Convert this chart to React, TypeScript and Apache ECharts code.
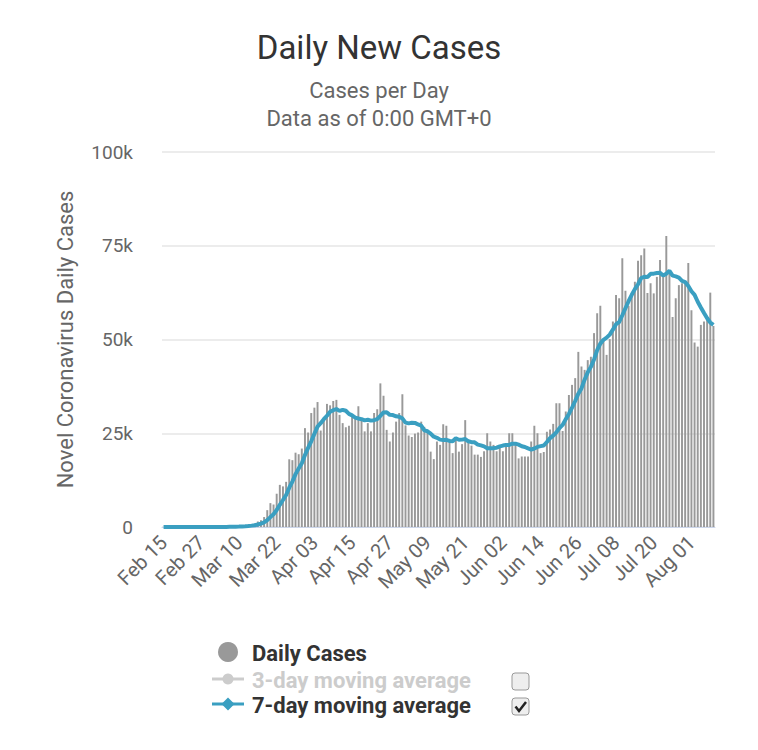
import React, { useEffect, useRef } from "react";
import * as echarts from "echarts";

const startDate = { year: 2020, month: 1, day: 15 }; // Feb 15 2020 (month is 0-based)
const dayCount = 176;

// Daily new cases, Feb 15 – Aug 08, 2020
const febCases = [0, 0, 0, 0, 0, 0, 1, 2, 0, 0, 0, 1, 0, 1, 8];
const marCases = [7, 23, 19, 33, 77, 53, 166, 116, 75, 188, 365, 439, 633, 759, 900, 1467, 1833, 2657, 4494, 6367, 5995, 8873, 11238, 10827, 12043, 18058, 17821, 19821, 19408, 20921, 26365];
const aprCases = [25200, 30390, 31824, 33323, 25717, 28410, 32829, 32449, 33600, 33900, 29900, 27700, 26600, 27000, 29600, 29500, 32200, 28600, 25500, 27700, 25500, 30400, 31400, 38300, 35000, 25900, 22800, 25200, 28100, 30400];
const mayCases = [35400, 27100, 24400, 24000, 24900, 25200, 28100, 26700, 25400, 20100, 18100, 22800, 21900, 27400, 27000, 23300, 19700, 23500, 20100, 22100, 28500, 22800, 21700, 19300, 19300, 18700, 20200, 25000, 22800, 21900, 20200];
const junCases = [21700, 20200, 21500, 25000, 25000, 22000, 18300, 18800, 18800, 18800, 22800, 27000, 25000, 19700, 20000, 25400, 26000, 27500, 33000, 33000, 25600, 30800, 35200, 37900, 39700, 46700, 42800, 41900, 44500, 45400];
const julCases = [51700, 57000, 59000, 49900, 45900, 50100, 54800, 61900, 61000, 71700, 63000, 59000, 62000, 65400, 71000, 72500, 74300, 62400, 65000, 62300, 66700, 71200, 67700, 77600, 67700, 56000, 61000, 64500, 65000, 65400, 70400];
const augCases = [57800, 49200, 48100, 53900, 54800, 55400, 62500, 53600];

const dailyCases = [...febCases, ...marCases, ...aprCases, ...mayCases, ...junCases, ...julCases, ...augCases];

const monthNames = ["Jan", "Feb", "Mar", "Apr", "May", "Jun", "Jul", "Aug", "Sep", "Oct", "Nov", "Dec"];
const yTicks = [0, 25000, 50000, 75000, 100000];

function buildDates(): string[] {
  const out: string[] = [];
  for (let i = 0; i < dayCount; i++) {
    const d = new Date(Date.UTC(startDate.year, startDate.month, startDate.day + i));
    const dd = String(d.getUTCDate()).padStart(2, "0");
    out.push(monthNames[d.getUTCMonth()] + " " + dd);
  }
  return out;
}

function movingAverage(values: number[], n: number): number[] {
  return values.map((_, i) => {
    const s = Math.max(0, i - n + 1);
    const win = values.slice(s, i + 1);
    return Math.round(win.reduce((a, b) => a + b, 0) / win.length);
  });
}

const FONT = "Roboto, 'Noto Sans', sans-serif";
const LINE_COLOR = "#3a9fc1";

export default function App() {
  const ref = useRef<HTMLDivElement>(null);
  useEffect(() => {
    document.body.style.margin = "0";
    if (!ref.current) return;
    const chart = echarts.init(ref.current, null, { renderer: "svg" });
    const dates = buildDates();
    const avg7 = movingAverage(dailyCases, 7);
    const option: any = {
      animation: false,
      backgroundColor: "#ffffff",
      textStyle: { fontFamily: FONT },
      title: [
        {
          text: "Daily New Cases",
          left: "center",
          top: 26,
          textStyle: { fontFamily: FONT, fontSize: 33, fontWeight: "normal", color: "#333333" },
        },
        {
          text: "Cases per Day",
          left: "center",
          top: 74,
          textStyle: { fontFamily: FONT, fontSize: 22, fontWeight: "normal", color: "#666666" },
        },
        {
          text: "Data as of 0:00 GMT+0",
          left: "center",
          top: 102,
          textStyle: { fontFamily: FONT, fontSize: 22, fontWeight: "normal", color: "#666666" },
        },
      ],
      grid: { left: 162, top: 152, width: 553, height: 375, containLabel: false },
      xAxis: {
        type: "category",
        data: dates,
        boundaryGap: true,
        axisLine: { show: true, lineStyle: { color: "#ccd6eb", width: 1 } },
        axisTick: { show: false },
        axisLabel: {
          interval: 11,
          rotate: 45,
          fontFamily: FONT,
          fontSize: 20,
          color: "#666666",
          margin: 12,
        },
        splitLine: { show: false },
      },
      yAxis: {
        type: "value",
        min: yTicks[0],
        max: yTicks[yTicks.length - 1],
        interval: yTicks[1] - yTicks[0],
        axisLine: { show: false },
        axisTick: { show: false },
        axisLabel: {
          fontFamily: FONT,
          fontSize: 19,
          color: "#666666",
          margin: 29,
          formatter: (v: number) => (v === 0 ? "0" : v / 1000 + "k"),
        },
        splitLine: { lineStyle: { color: "#e6e6e6", width: 1.5 } },
        name: "Novel Coronavirus Daily Cases",
        nameLocation: "middle",
        nameGap: 86,
        nameTextStyle: { fontFamily: FONT, fontSize: 22, color: "#666666" },
      },
      series: [
        {
          name: "Daily Cases",
          type: "bar",
          data: dailyCases,
          barWidth: "62%",
          itemStyle: { color: "#999999" },
          z: 2,
        },
        {
          name: "7-day moving average",
          type: "line",
          data: avg7,
          showSymbol: false,
          symbol: "none",
          lineStyle: { color: LINE_COLOR, width: 4 },
          itemStyle: { color: LINE_COLOR },
          z: 3,
        },
      ],
      graphic: [
        { type: "circle", shape: { cx: 228, cy: 652, r: 10 }, style: { fill: "#999999" } },
        {
          type: "text",
          x: 252,
          y: 653,
          style: { text: "Daily Cases", fill: "#333333", font: "bold 22px " + FONT, verticalAlign: "middle" },
        },
        { type: "line", shape: { x1: 212, y1: 679, x2: 244, y2: 679 }, style: { stroke: "#cccccc", lineWidth: 3 } },
        { type: "circle", shape: { cx: 228, cy: 679, r: 5.5 }, style: { fill: "#cccccc" } },
        {
          type: "text",
          x: 252,
          y: 680,
          style: { text: "3-day moving average", fill: "#cccccc", font: "bold 22px " + FONT, verticalAlign: "middle" },
        },
        { type: "line", shape: { x1: 212, y1: 704, x2: 244, y2: 704 }, style: { stroke: LINE_COLOR, lineWidth: 3 } },
        {
          type: "polygon",
          shape: { points: [[228, 697.5], [234.5, 704], [228, 710.5], [221.5, 704]] },
          style: { fill: LINE_COLOR },
        },
        {
          type: "text",
          x: 252,
          y: 705,
          style: { text: "7-day moving average", fill: "#333333", font: "bold 22px " + FONT, verticalAlign: "middle" },
        },
        {
          type: "rect",
          shape: { x: 512, y: 673, width: 17, height: 17, r: 3 },
          style: { fill: "#eeeeee", stroke: "#999999", lineWidth: 1 },
        },
        {
          type: "rect",
          shape: { x: 512, y: 698, width: 17, height: 17, r: 3 },
          style: { fill: "#eeeeee", stroke: "#999999", lineWidth: 1 },
        },
        {
          type: "polyline",
          shape: { points: [[515.5, 706.5], [519, 711], [526, 702]] },
          style: { stroke: "#222222", lineWidth: 2.5, fill: null },
        },
      ],
    };
    chart.setOption(option);
    return () => chart.dispose();
  }, []);
  return <div ref={ref} style={{ width: 758, height: 750 }} />;
}
